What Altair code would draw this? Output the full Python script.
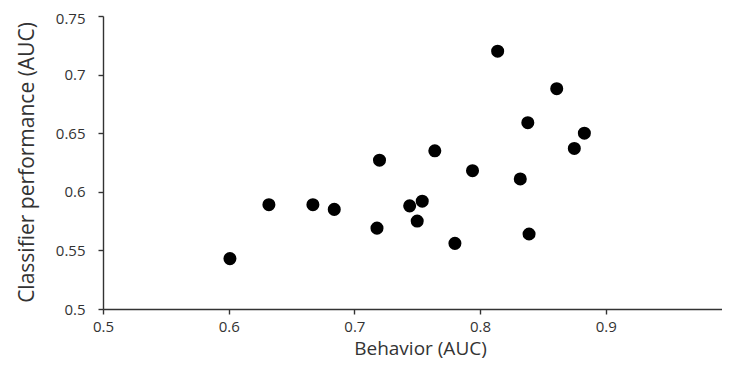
import altair as alt
import pandas as pd

# Values
behavior_auc = [0.601, 0.632, 0.667, 0.684, 0.718, 0.720, 0.744, 0.754, 0.750,
                0.764, 0.780, 0.794, 0.814, 0.832, 0.838, 0.839, 0.861, 0.875, 0.883]
classifier_auc = [0.543, 0.589, 0.589, 0.585, 0.569, 0.627, 0.588, 0.592, 0.575,
                  0.635, 0.556, 0.618, 0.720, 0.611, 0.659, 0.564, 0.688, 0.637, 0.650]

x_ticks = [0.5, 0.6, 0.7, 0.8, 0.9, 1.0]
y_ticks = [0.5, 0.55, 0.6, 0.65, 0.7, 0.75]

# the reference axis runs to 1.0 just past the right edge of the picture;
# the visible part ends a little before it
x_domain = [0.5, 0.9925]
y_domain = [0.5, 0.75]

df = pd.DataFrame({"behavior": behavior_auc, "classifier": classifier_auc})

FONT = "Open Sans"
INK = "#333333"

chart = (
    alt.Chart(df)
    .mark_circle(size=170, color="#000000", opacity=1)
    .encode(
        x=alt.X(
            "behavior:Q",
            scale=alt.Scale(domain=x_domain, nice=False, zero=False),
            axis=alt.Axis(
                values=x_ticks,
                format=".2~f",
                title="Behavior (AUC)",
                labelPadding=5,
                titleX=317,
                titleY=45,
                titleBaseline="alphabetic",
                titleAlign="center",
                titleFontSize=19,
            ),
        ),
        y=alt.Y(
            "classifier:Q",
            scale=alt.Scale(domain=y_domain, nice=False, zero=False),
            axis=alt.Axis(
                values=y_ticks,
                format=".2~f",
                title="Classifier performance (AUC)",
                labelPadding=13,
                labelOffset={"condition": {"test": "datum.value >= 0.749", "value": 2}, "value": 0},
                titleAngle=270,
                titleX=-70,
                titleY=146,
                titleBaseline="alphabetic",
                titleAlign="center",
                titleFontSize=21,
            ),
        ),
    )
    .properties(
        width=619,
        height=293,
        padding={"left": 95, "top": 8, "right": 0, "bottom": 50},
        autosize=alt.AutoSizeParams(type="none"),
    )
    .configure_view(stroke=None)
    .configure_axis(
        grid=False,
        domainColor=INK,
        domainWidth=1.4,
        tickColor=INK,
        tickWidth=1.4,
        tickSize=5,
        labelFont=FONT,
        labelFontSize=15,
        labelColor=INK,
        labelFlush=False,
        labelOverlap=False,
        titleFont=FONT,
        titleFontWeight="normal",
        titleColor=INK,
    )
)

chart.save("out.html", embed_options={"renderer": "svg", "actions": False})
